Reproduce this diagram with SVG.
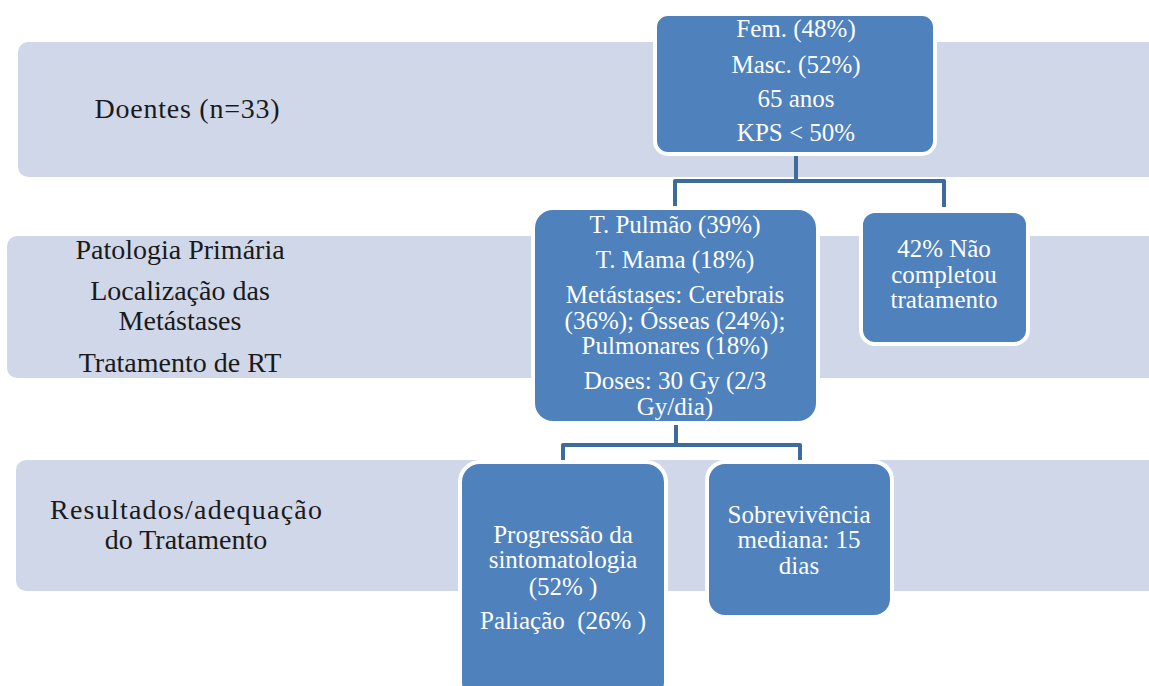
<svg xmlns="http://www.w3.org/2000/svg" width="1149" height="686" viewBox="0 0 1149 686">
<style>
.band{fill:#d0d7e8}
.node{fill:#4f81bd;stroke:#ffffff;stroke-width:4}
.lbl{font-family:"Liberation Serif",serif;font-size:28px;fill:#1a1a1a;text-anchor:middle}
.nt{font-family:"Liberation Serif",serif;font-size:25px;fill:#ffffff;text-anchor:middle}
.conn{fill:none;stroke:#3d6c9c;stroke-width:4;stroke-linejoin:round}
</style>
<rect width="1149" height="686" fill="#ffffff"/>
<g id="band1"><rect class="band" x="18" y="42" width="1150" height="135" rx="10"/><text class="lbl" x="187" y="118" textLength="185" lengthAdjust="spacing">Doentes (n=33)</text></g>
<g id="band2"><rect class="band" x="7" y="236" width="1160" height="142" rx="10"/>
<text class="lbl" x="180" y="259">Patologia Primária</text>
<text class="lbl" x="180" y="300">Localização das</text>
<text class="lbl" x="180" y="330">Metástases</text>
<text class="lbl" x="180" y="372">Tratamento de RT</text></g>
<g id="band3"><rect class="band" x="16" y="460" width="1150" height="131" rx="10"/>
<text class="lbl" x="186" y="519" textLength="272" lengthAdjust="spacing">Resultados/adequação</text>
<text class="lbl" x="186" y="549">do Tratamento</text></g>
<g id="connectors">
<path class="conn" d="M796 154 V181 H675 V206"/>
<path class="conn" d="M796 181 H944 V207"/>
<path class="conn" d="M676 423 V445 H563 V460"/>
<path class="conn" d="M676 445 H800 V460"/>
</g>
<g id="n1"><rect class="node" x="655" y="14" width="280" height="140" rx="13"/>
<text class="nt" x="796" y="37">Fem. (48%)</text>
<text class="nt" x="796" y="73">Masc. (52%)</text>
<text class="nt" x="796" y="107">65 anos</text>
<text class="nt" x="796" y="141">KPS &lt; 50%</text></g>
<g id="n2"><rect class="node" x="533" y="208" width="285" height="215" rx="20"/>
<text class="nt" x="675" y="233">T. Pulmão (39%)</text>
<text class="nt" x="675" y="268">T. Mama (18%)</text>
<text class="nt" x="675" y="303">Metástases: Cerebrais</text>
<text class="nt" x="675" y="329">(36%); Ósseas (24%);</text>
<text class="nt" x="675" y="354">Pulmonares (18%)</text>
<text class="nt" x="675" y="389">Doses: 30 Gy (2/3</text>
<text class="nt" x="675" y="415">Gy/dia)</text></g>
<g id="n3"><rect class="node" x="861" y="211" width="167" height="133" rx="14"/>
<text class="nt" x="944" y="257">42% Não</text>
<text class="nt" x="944" y="283">completou</text>
<text class="nt" x="944" y="308">tratamento</text></g>
<g id="n4"><rect class="node" x="460" y="462" width="206" height="240" rx="20"/>
<text class="nt" x="563" y="543">Progressão da</text>
<text class="nt" x="563" y="568">sintomatologia</text>
<text class="nt" x="563" y="595">(52% )</text>
<text class="nt" x="563" y="629" xml:space="preserve">Paliação  (26% )</text></g>
<g id="n5"><rect class="node" x="707" y="462" width="185" height="155" rx="18"/>
<text class="nt" x="799" y="523">Sobrevivência</text>
<text class="nt" x="799" y="548">mediana: 15</text>
<text class="nt" x="799" y="574">dias</text></g>
</svg>
